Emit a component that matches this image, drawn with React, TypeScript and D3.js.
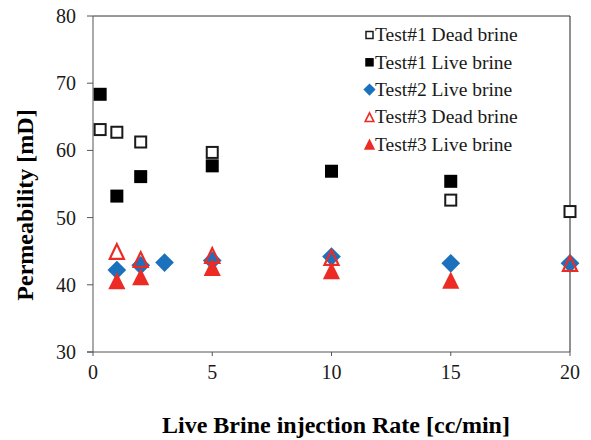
import React from "react";
import * as d3 from "d3";

// Injection rate [cc/min] vs permeability [mD] for each test series
const test1DeadRate = [0.3, 1, 2, 5, 15, 20];
const test1DeadPerm = [63.1, 62.7, 61.25, 59.7, 52.6, 50.9];

const test1LiveRate = [0.3, 1, 2, 5, 10, 15];
const test1LivePerm = [68.35, 53.2, 56.1, 57.7, 56.9, 55.4];

const test2LiveRate = [1, 2, 3, 5, 10, 15, 20];
const test2LivePerm = [42.2, 42.9, 43.3, 43.6, 44.2, 43.2, 43.2];

const test3DeadRate = [1, 2, 5, 10, 20];
const test3DeadPerm = [45.0, 43.8, 44.4, 44.1, 43.2];

const test3LiveRate = [1, 2, 5, 10, 15];
const test3LivePerm = [40.6, 41.2, 42.6, 42.1, 40.7];

const xTicks = [0, 5, 10, 15, 20];
const yTicks = [30, 40, 50, 60, 70, 80];

const seriesNames = [
  "Test#1 Dead brine",
  "Test#1 Live brine",
  "Test#2 Live brine",
  "Test#3 Dead brine",
  "Test#3 Live brine",
];

type Shape = "openSquare" | "square" | "diamond" | "openTriangle" | "triangle";

const BLUE = "#1c71bd";
const RED = "#ec2b25";
const INK = "#1a1a1a";
const SERIF = "'Liberation Serif', 'Times New Roman', Times, serif";

const series: { name: string; rate: number[]; perm: number[]; shape: Shape }[] = [
  { name: seriesNames[0], rate: test1DeadRate, perm: test1DeadPerm, shape: "openSquare" },
  { name: seriesNames[1], rate: test1LiveRate, perm: test1LivePerm, shape: "square" },
  { name: seriesNames[2], rate: test2LiveRate, perm: test2LivePerm, shape: "diamond" },
  { name: seriesNames[3], rate: test3DeadRate, perm: test3DeadPerm, shape: "openTriangle" },
  { name: seriesNames[4], rate: test3LiveRate, perm: test3LivePerm, shape: "triangle" },
];

function Marker({ shape, cx, cy, s, sw = 2 }: { shape: Shape; cx: number; cy: number; s: number; sw?: number }) {
  const h = s / 2;
  switch (shape) {
    case "openSquare":
      return (
        <rect x={cx - h + sw / 2} y={cy - h + sw / 2} width={s - sw} height={s - sw}
          fill="#fff" stroke={INK} strokeWidth={sw} />
      );
    case "square":
      return <rect x={cx - h} y={cy - h} width={s} height={s} fill="#000" />;
    case "diamond": {
      const r = s * 0.72;
      return (
        <path d={`M${cx},${cy - r}L${cx + r},${cy}L${cx},${cy + r}L${cx - r},${cy}Z`} fill={BLUE} />
      );
    }
    case "openTriangle": {
      const w = s * 0.62;
      const t = s * 0.66;
      return (
        <path d={`M${cx},${cy - t + 1.5}L${cx + w - 1},${cy + t - 1}L${cx - w + 1},${cy + t - 1}Z`}
          fill="none" stroke={RED} strokeWidth={sw * 1.1} strokeLinejoin="miter" />
      );
    }
    case "triangle": {
      const w = s * 0.66;
      const t = s * 0.66;
      return <path d={`M${cx},${cy - t}L${cx + w},${cy + t}L${cx - w},${cy + t}Z`} fill={RED} />;
    }
  }
}

export default function App() {
  const width = 591;
  const height = 440;
  const left = 93;
  const right = 570;
  const top = 16;
  const bottom = 352;

  const x = d3.scaleLinear().domain([0, 20]).range([left, right]);
  const y = d3.scaleLinear().domain([30, 80]).range([bottom, top]);

  const axisColor = "#555";
  const txt = { fontFamily: SERIF };

  return (
    <svg width={width} height={height} style={{ position: "absolute", left: 0, top: 0, background: "#fff" }}>
      <rect x={0} y={0} width={width} height={height} fill="#fff" />

      {/* plot frame: top and right edges */}
      <line x1={left} x2={right} y1={top} y2={top} stroke="#333" strokeWidth={1} />
      <line x1={right} x2={right} y1={top} y2={bottom} stroke="#222" strokeWidth={1} />

      {/* y axis */}
      <line x1={left} x2={left} y1={top} y2={bottom} stroke={axisColor} strokeWidth={1} />
      {yTicks.map((t) => (
        <g key={`y${t}`}>
          <line x1={left - 6} x2={left} y1={y(t)} y2={y(t)} stroke={axisColor} strokeWidth={1} />
          <text x={left - 17} y={y(t)} dy="0.35em" textAnchor="end" fontSize={20} fill={INK} style={txt}>
            {t}
          </text>
        </g>
      ))}

      {/* x axis */}
      <line x1={left - 6} x2={right} y1={bottom} y2={bottom} stroke={axisColor} strokeWidth={1} />
      {xTicks.map((t) => (
        <g key={`x${t}`}>
          <line x1={x(t)} x2={x(t)} y1={bottom} y2={bottom + 4} stroke={axisColor} strokeWidth={1} />
          <text x={x(t)} y={379} textAnchor="middle" fontSize={20} fill={INK} style={txt}>
            {t}
          </text>
        </g>
      ))}

      {/* axis titles */}
      <text x={336} y={433} textAnchor="middle" fontSize={24} fontWeight="bold" fill="#000" style={txt}>
        Live Brine injection Rate [cc/min]
      </text>
      <text transform="translate(33,205) rotate(-90)" textAnchor="middle" fontSize={24}
        fontWeight="bold" fill="#000" style={txt}>
        Permeability [mD]
      </text>

      {/* data points */}
      {series.map((s) => (
        <g key={s.name}>
          {s.rate.map((r, i) => (
            <Marker key={i} shape={s.shape} cx={x(r)} cy={y(s.perm[i])} s={13} />
          ))}
        </g>
      ))}

      {/* legend */}
      {series.map((s, i) => {
        const cy = 35 + i * 27.3;
        return (
          <g key={`lg${i}`}>
            <Marker shape={s.shape} cx={369.5} cy={cy} s={8.5} sw={1.5} />
            <text x={375} y={cy} dy="0.33em" fontSize={19.5} fill={INK} style={txt}>
              {s.name}
            </text>
          </g>
        );
      })}
    </svg>
  );
}
